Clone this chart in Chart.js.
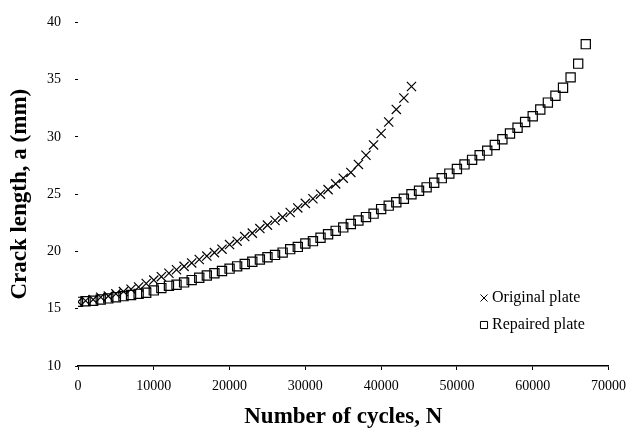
<!DOCTYPE html>
<html>
<head>
<meta charset="utf-8">
<script src="https://cdn.jsdelivr.net/npm/chart.js@4.4.1/dist/chart.umd.min.js"></script>
<style>
  html, body { margin: 0; padding: 0; background: #fff; }
  #wrap { width: 634px; height: 439px; position: relative; }
</style>
</head>
<body>
<div id="wrap"><canvas id="c" width="634" height="439"></canvas></div>
<script>
// Crack growth records: number of cycles N and crack length a (mm)
const seriesNames = ['Original plate', 'Repaired plate'];

const cyclesA = [0,1000,2000,3000,4000,5000,6000,7000,8000,9000,10000,11000,12000,13000,14000,15000,16000,17000,18000,19000,20000,21000,22000,23000,24000,25000,26000,27000,28000,29000,30000,31000,32000,33000,34000,35000,36000,37000,38000,39000,40000,41000,42000,43000,44000];
const crackA = [15.6,15.7,15.8,16.0,16.1,16.3,16.5,16.7,16.9,17.2,17.5,17.8,18.1,18.4,18.7,19.0,19.3,19.6,19.9,20.2,20.6,20.9,21.3,21.6,22.0,22.3,22.7,23.0,23.4,23.8,24.2,24.6,25.0,25.4,25.9,26.4,26.9,27.6,28.4,29.3,30.3,31.3,32.4,33.4,34.4];

const cyclesB = [0,1000,2000,3000,4000,5000,6000,7000,8000,9000,10000,11000,12000,13000,14000,15000,16000,17000,18000,19000,20000,21000,22000,23000,24000,25000,26000,27000,28000,29000,30000,31000,32000,33000,34000,35000,36000,37000,38000,39000,40000,41000,42000,43000,44000,45000,46000,47000,48000,49000,50000,51000,52000,53000,54000,55000,56000,57000,58000,59000,60000,61000,62000,63000,64000,65000,66000,67000];
const crackB = [15.6,15.65,15.7,15.8,15.9,16.0,16.1,16.2,16.3,16.4,16.6,16.8,17.0,17.1,17.3,17.5,17.7,17.9,18.1,18.3,18.5,18.7,18.9,19.1,19.3,19.5,19.7,19.9,20.2,20.4,20.7,20.9,21.2,21.5,21.8,22.1,22.4,22.7,23.0,23.3,23.7,24.0,24.3,24.6,25.0,25.3,25.6,26.0,26.4,26.8,27.2,27.6,28.0,28.4,28.8,29.3,29.8,30.3,30.8,31.3,31.8,32.4,33.0,33.6,34.3,35.2,36.4,38.1];

const xTicks = [0,10000,20000,30000,40000,50000,60000,70000];
const yTicks = [10,15,20,25,30,35,40];

const toPoints = (xs, ys) => xs.map((x, i) => ({ x: x, y: ys[i] }));

const FONT = 'Liberation Serif';

// Legend drawn inside the plot, lower right
const innerLegend = {
  id: 'innerLegend',
  afterDraw(chart) {
    const ctx = chart.ctx;
    const area = chart.chartArea;
    const x0 = area.left + 402;
    const rows = [area.bottom - 68, area.bottom - 41];
    ctx.save();
    chart.data.datasets.forEach((ds, i) => {
      const y = rows[i];
      ctx.strokeStyle = '#000';
      ctx.fillStyle = 'rgba(0,0,0,0)';
      ctx.lineWidth = 1;
      Chart.helpers.drawPoint(ctx, {
        pointStyle: ds.pointStyle,
        radius: 5,
        borderWidth: 1,
        rotation: 0
      }, x0 + 4, y);
      ctx.fillStyle = '#000';
      ctx.font = '16px "' + FONT + '"';
      ctx.textBaseline = 'middle';
      ctx.textAlign = 'left';
      ctx.fillText(ds.label, x0 + 12, y);
    });
    ctx.restore();
  }
};

new Chart(document.getElementById('c'), {
  type: 'scatter',
  data: {
    datasets: [
      {
        label: seriesNames[0],
        data: toPoints(cyclesA, crackA),
        pointStyle: 'crossRot',
        pointRadius: 6.5,
        pointBorderWidth: 1.2,
        borderColor: '#000',
        backgroundColor: 'rgba(0,0,0,0)',
        showLine: false
      },
      {
        label: seriesNames[1],
        data: toPoints(cyclesB, crackB),
        pointStyle: 'rect',
        pointRadius: 6.5,
        pointBorderWidth: 1.2,
        borderColor: '#000',
        backgroundColor: 'rgba(255,255,255,0)',
        showLine: false
      }
    ]
  },
  options: {
    responsive: false,
    animation: false,
    layout: { padding: { top: 14, right: 24, left: 0, bottom: 0 } },
    plugins: {
      legend: { display: false },
      tooltip: { enabled: false }
    },
    scales: {
      x: {
        type: 'linear',
        min: 0,
        max: 70000,
        afterBuildTicks(axis) { axis.ticks = xTicks.map(v => ({ value: v })); },
        afterFit(axis) { axis.height = 73; },
        border: { display: true, color: '#000', width: 1.5 },
        grid: { display: true, drawOnChartArea: false, drawTicks: true, tickLength: 4, color: '#000' },
        ticks: {
          color: '#000',
          font: { family: FONT, size: 14 },
          padding: 8,
          maxRotation: 0,
          callback: v => String(v)
        },
        title: {
          display: true,
          text: 'Number of cycles, N',
          color: '#000',
          font: { family: FONT, size: 23, weight: 'bold' },
          padding: { top: 0, bottom: 8 }
        }
      },
      y: {
        type: 'linear',
        min: 10,
        max: 40,
        afterBuildTicks(axis) { axis.ticks = yTicks.map(v => ({ value: v })); },
        afterFit(axis) { axis.width = 78; },
        border: { display: false },
        grid: { display: true, drawOnChartArea: false, drawTicks: true, tickLength: 3, color: '#000' },
        ticks: {
          color: '#000',
          font: { family: FONT, size: 14 },
          padding: 14
        },
        title: {
          display: true,
          text: 'Crack length, a (mm)',
          color: '#000',
          font: { family: FONT, size: 23, weight: 'bold' },
          padding: { top: 6, bottom: 0 }
        }
      }
    }
  },
  plugins: [innerLegend]
});
</script>
</body>
</html>
